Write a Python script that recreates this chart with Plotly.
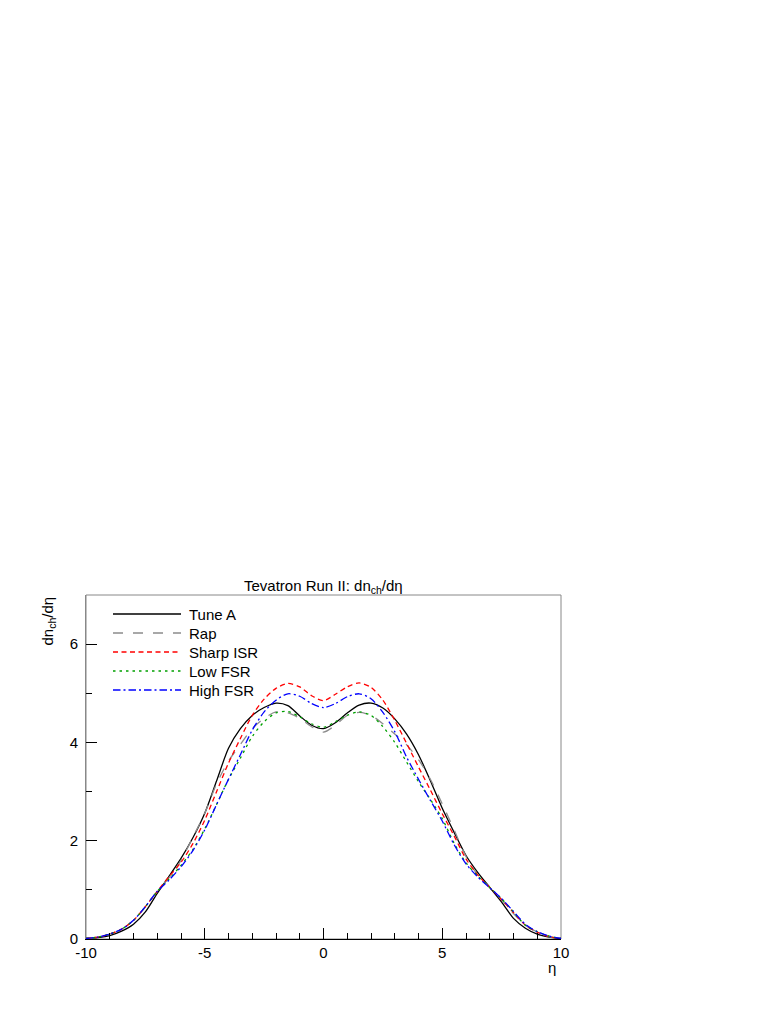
import plotly.graph_objects as go

# pseudorapidity grid
eta = [-10, -9.5, -9, -8.5, -8, -7.5, -7, -6.5, -6, -5.5, -5, -4.5, -4, -3.5, -3, -2.5, -2, -1.5, -1, -0.5,
       0, 0.5, 1, 1.5, 2, 2.5, 3, 3.5, 4, 4.5, 5, 5.5, 6, 6.5, 7, 7.5, 8, 8.5, 9, 9.5, 10]

tune_a = [0.01, 0.03, 0.07, 0.16, 0.30, 0.55, 0.93, 1.28, 1.64, 2.06, 2.56, 3.22, 3.88, 4.28, 4.55, 4.71, 4.80, 4.75, 4.54, 4.35,
          4.28, 4.40, 4.60, 4.76, 4.80, 4.70, 4.48, 4.17, 3.75, 3.22, 2.66, 2.17, 1.70, 1.35, 1.05, 0.75, 0.42, 0.22, 0.10, 0.04, 0.01]
rap = [0.01, 0.04, 0.10, 0.20, 0.38, 0.65, 0.97, 1.25, 1.60, 2.07, 2.56, 3.16, 3.62, 3.96, 4.28, 4.49, 4.62, 4.60, 4.49, 4.32,
       4.21, 4.35, 4.55, 4.61, 4.55, 4.38, 4.17, 3.95, 3.65, 3.25, 2.75, 2.22, 1.68, 1.30, 1.05, 0.80, 0.52, 0.28, 0.14, 0.05, 0.01]
sharp_isr = [0.01, 0.04, 0.10, 0.20, 0.38, 0.66, 0.97, 1.27, 1.56, 1.94, 2.42, 3.00, 3.58, 4.08, 4.55, 4.88, 5.10, 5.20, 5.13, 4.95,
             4.85, 4.98, 5.13, 5.21, 5.12, 4.86, 4.45, 3.98, 3.50, 3.03, 2.55, 2.10, 1.63, 1.30, 1.05, 0.80, 0.54, 0.28, 0.14, 0.05, 0.01]
low_fsr = [0.01, 0.04, 0.10, 0.20, 0.38, 0.66, 0.97, 1.22, 1.50, 1.82, 2.24, 2.74, 3.25, 3.68, 4.12, 4.42, 4.60, 4.63, 4.52, 4.38,
           4.31, 4.42, 4.55, 4.62, 4.55, 4.32, 4.00, 3.60, 3.20, 2.84, 2.45, 1.95, 1.55, 1.28, 1.05, 0.82, 0.55, 0.28, 0.15, 0.06, 0.01]
high_fsr = [0.01, 0.04, 0.10, 0.20, 0.38, 0.66, 0.97, 1.20, 1.47, 1.80, 2.22, 2.74, 3.25, 3.75, 4.25, 4.62, 4.86, 4.99, 4.94, 4.79,
            4.71, 4.79, 4.93, 4.99, 4.89, 4.61, 4.22, 3.70, 3.25, 2.82, 2.40, 1.92, 1.53, 1.26, 1.04, 0.82, 0.56, 0.30, 0.15, 0.06, 0.01]

x_ticks = [-10, -5, 0, 5, 10]
x_labels = ["-10", "-5", "0", "5", "10"]
y_ticks = [0, 2, 4, 6]

W, H = 782, 1012
OFF = 8  # page body margin
FONT = "Liberation Sans, Arial, Helvetica, sans-serif"

def px(x):
    return (x - OFF) / W

def py(y):
    return 1 - (y - OFF) / H

fig = go.Figure()
series = [
    ("Tune A", tune_a, "black", "solid"),
    ("Rap", rap, "#8c8c8c", "10px,10px"),
    ("Sharp ISR", sharp_isr, "#ff0000", "5px,3.5px"),
    ("Low FSR", low_fsr, "#00a000", "2.5px,4px"),
    ("High FSR", high_fsr, "#0000ff", "7.5px,3px,2px,3px"),
]
for name, vals, col, dash in series:
    fig.add_trace(go.Scatter(x=eta, y=vals, mode="lines", name=name, showlegend=False,
                             line=dict(color=col, dash=dash, width=1.3, shape="spline", smoothing=0.8)))

# hand-placed legend, ROOT style (line sample + label)
for i, (name, vals, col, dash) in enumerate(series):
    yy = 614 + 19 * i
    fig.add_shape(type="line", xref="paper", yref="paper", x0=px(113), x1=px(181), y0=py(yy), y1=py(yy),
                  line=dict(color=col, dash=dash, width=1.3))
    fig.add_annotation(text=name, xref="paper", yref="paper", x=px(187), y=py(yy),
                       xanchor="left", yanchor="middle", showarrow=False, font=dict(size=15))

fig.update_layout(
    width=W, height=H, autosize=False,
    margin=dict(l=0, r=0, t=0, b=0, autoexpand=False),
    paper_bgcolor="white", plot_bgcolor="white",
    font=dict(family=FONT, size=15, color="black"),
    showlegend=False,
    xaxis=dict(domain=[px(86), px(561)], range=[-10, 10], tickvals=x_ticks, ticktext=x_labels,
               ticks="inside", ticklen=11, tickcolor="black", tickwidth=1, automargin=False,
               showline=True, linecolor="black", linewidth=1, mirror=False,
               showgrid=False, zeroline=False,
               minor=dict(dtick=1, ticks="inside", ticklen=6, tickcolor="black", showgrid=False)),
    yaxis=dict(domain=[py(939), py(595)], range=[0, 7], tickvals=y_ticks,
               ticks="inside", ticklen=11, tickcolor="black", tickwidth=1, automargin=False,
               showline=True, linecolor="#888888", linewidth=1, mirror=False,
               showgrid=False, zeroline=False, ticklabelstandoff=4,
               minor=dict(dtick=1, ticks="inside", ticklen=6, tickcolor="black", showgrid=False)),
)

# frame (top and right sides)
fig.add_shape(type="rect", xref="paper", yref="paper", x0=px(86), x1=px(561), y0=py(939), y1=py(595),
              line=dict(color="#888888", width=1), layer="below")

fig.add_annotation(text="Tevatron Run II: dn<sub>ch</sub>/dη", xref="paper", yref="paper",
                   x=px(323), y=py(586), xanchor="center", yanchor="middle", showarrow=False,
                   font=dict(size=15))
fig.add_annotation(text="dn<sub>ch</sub>/dη", xref="paper", yref="paper", textangle=-90,
                   x=px(48), y=py(595), xanchor="center", yanchor="top", showarrow=False,
                   font=dict(size=15))
fig.add_annotation(text="η", xref="paper", yref="paper",
                   x=px(558), y=py(967), xanchor="right", yanchor="middle", showarrow=False,
                   font=dict(size=15))

fig.write_html("out.html")
